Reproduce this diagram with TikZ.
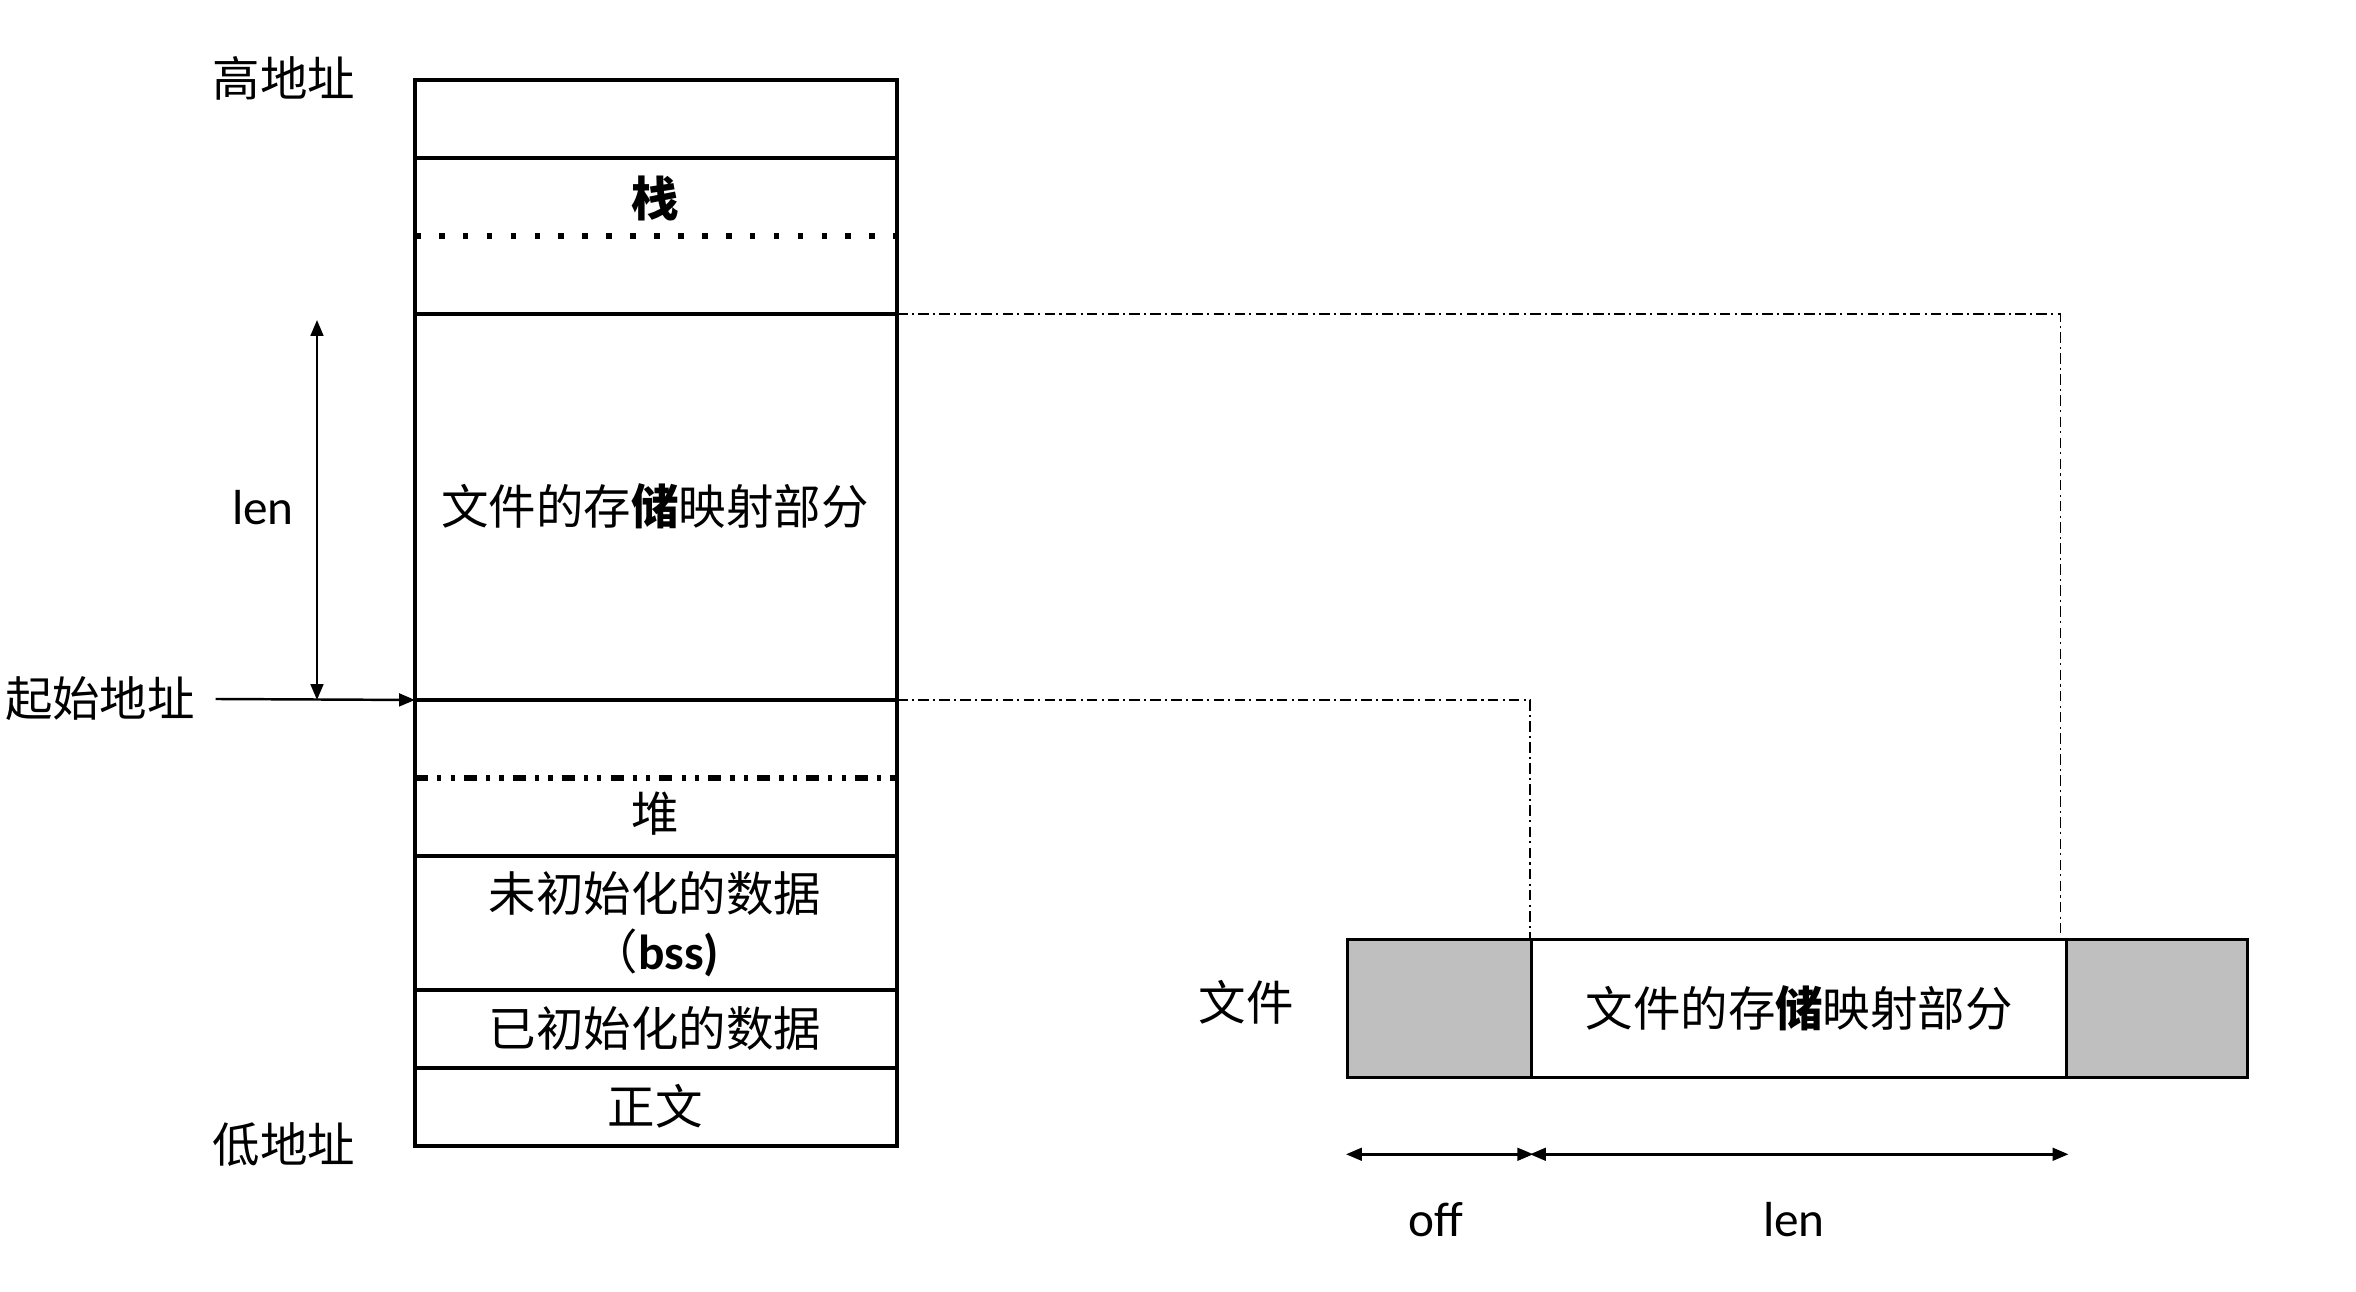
\documentclass[tikz,border=0pt]{standalone}
\usepackage{fontspec}
\setmainfont{Carlito}
\newfontfamily\cjk{Noto Sans CJK SC}
\usetikzlibrary{arrows.meta}

\tikzset{
  seg/.style={line width=0.9pt},
  cjklabel/.style={font=\cjk\fontsize{13.5}{16}\selectfont, inner sep=0pt},
  latlabel/.style={font=\fontsize{14}{17}\selectfont, inner sep=0pt},
  link/.style={line width=0.5pt, dash pattern=on 3pt off 1.2pt on 0.6pt off 1.2pt},
  arr/.style={line width=0.7pt, -{Triangle[length=4.5pt,width=3.6pt]}},
  dimarr/.style={line width=0.7pt, {Triangle[length=4.5pt,width=3.6pt]}-{Triangle[length=4.5pt,width=3.6pt]}},
  filepart/.style={draw, line width=0.9pt, minimum height=1.38cm, inner sep=0pt, anchor=north west},
}

\begin{document}
\begin{tikzpicture}[x=0.01cm, y=-0.01cm]
    \useasboundingbox (0,0) rectangle (2356,1292);

    % Memory layout column
    \draw[seg] (415,80) rectangle (897,1146);
    \foreach \y in {158,314,700,856,990,1068}
        \draw[seg] (415,\y) -- (897,\y);
    \draw[line width=1.6pt, dash pattern=on 1.6pt off 5.2pt] (415,236) -- (897,236);
    \draw[line width=1.6pt, dash pattern=on 3.7pt off 2.6pt on 1.2pt off 2.6pt on 1.2pt off 2.6pt] (415,778) -- (897,778);
    \coordinate (maptop) at (897,314);
    \coordinate (mapbot) at (897,700);
    \coordinate (mapleft) at (415,700);

    \node[cjklabel] (stack) at (655,198) {\bfseries 栈};
    \node[cjklabel] (mmap) at (655,506) {文件的存\textbf{储}映射部分};
    \node[cjklabel] (heap) at (655,814) {堆};
    \node[cjklabel] (bss) at (655,893) {未初始化的数据};
    \node[latlabel] (bssname) at (655,953) {{\cjk\fontsize{13.5}{16}\selectfont （}\textbf{bss)}};
    \node[cjklabel] (data) at (655,1028) {已初始化的数据};
    \node[cjklabel] (text) at (655,1106) {正文};

    % Address labels
    \node[cjklabel] (high) at (284,78) {高地址};
    \node[cjklabel] (low) at (284,1145) {低地址};
    \node[cjklabel] (start) at (100,699) {起始地址};
    \draw[arr] ([xshift=0.2cm]start.east) -- (mapleft);

    % Length of the mapped region
    \coordinate (lentop) at (317,320);
    \coordinate (lenbot) at (317,700);
    \draw[dimarr] (lentop) -- (lenbot);
    \node[latlabel] (lenleft) at (263,508) {len};

    % File
    \node[cjklabel] (file) at (1246,1002) {文件};
    \node[filepart, fill=black!25, minimum width=1.84cm] (foff) at (1346,938) {};
    \node[filepart, minimum width=5.35cm] (fmap) at (1530,938) {};
    \node[filepart, fill=black!25, minimum width=1.81cm] (ftail) at (2065,938) {};
    \node[cjklabel] (fmaptext) at (fmap.center) {文件的存\textbf{储}映射部分};

    % Mapping links
    \draw[link] (maptop) -| ([xshift=-0.08cm]fmap.north east);
    \draw[link] (mapbot) -| (fmap.north west);

    % Offset and length
    \draw[dimarr] ([yshift=-0.75cm]foff.south west) -- ([yshift=-0.75cm]foff.south east);
    \draw[dimarr] ([yshift=-0.75cm]fmap.south west) -- ([yshift=-0.75cm]fmap.south east);
    \node[latlabel] (offlabel) at (1436,1220) {off};
    \node[latlabel] (lenright) at (1794,1220) {len};
\end{tikzpicture}
\end{document}
